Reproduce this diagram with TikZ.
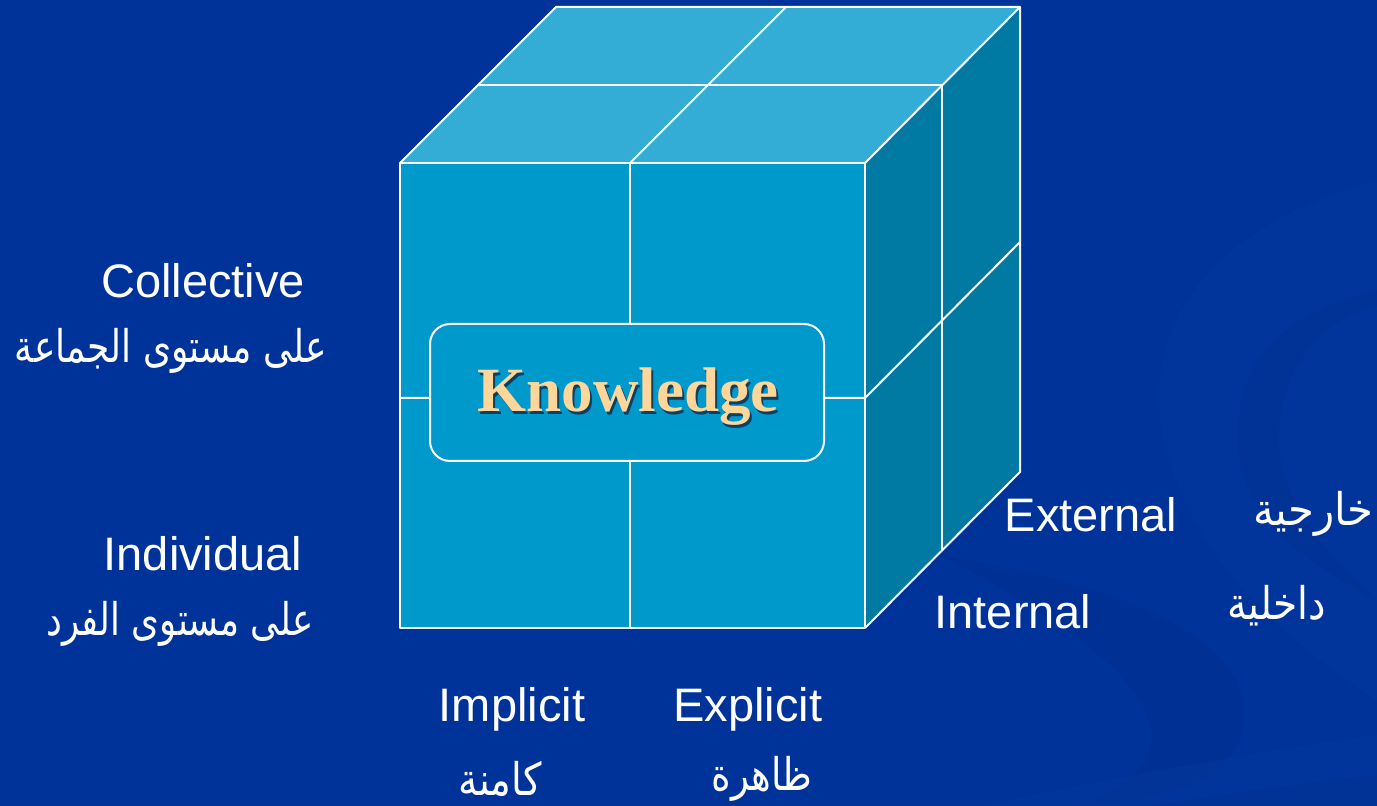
\documentclass[tikz,border=0pt]{standalone}
\usepackage{fontspec}
\setmainfont{Liberation Sans}
\newfontfamily\arabicfont[Script=Arabic]{DejaVu Sans}
\newfontfamily\kfont{Liberation Serif}
\TeXXeTstate=1
\definecolor{bg}{RGB}{0,51,153}
\definecolor{bgdark}{RGB}{0,44,138}
\definecolor{bglight}{RGB}{6,58,160}
\definecolor{frontc}{RGB}{0,153,204}
\definecolor{topc}{RGB}{51,173,214}
\definecolor{sidec}{RGB}{0,122,163}
\definecolor{peach}{RGB}{255,214,153}
\definecolor{kshadow}{RGB}{20,40,70}
\tikzset{
  lab/.style={text=white,font=\fontsize{23.5}{28}\selectfont,inner sep=0pt},
  arab/.style={text=white,font=\arabicfont\fontsize{22.5}{27}\selectfont,inner sep=0pt},
  gridline/.style={draw=white,line width=1pt,line join=round},
}
\begin{document}
\begin{tikzpicture}[x=0.5pt,y=-0.5pt]
\useasboundingbox (0,0) rectangle (1377,806);
% background
\fill[bg] (0,0) rectangle (1377,806);
\fill[bglight,opacity=0.35] (1377,180) .. controls (1200,230) and (1150,330) .. (1160,420) .. controls (1180,560) and (1300,650) .. (1377,700) -- cycle;
\fill[bgdark,opacity=0.2] (1377,290) .. controls (1260,320) and (1230,380) .. (1240,460) .. controls (1250,520) and (1300,560) .. (1377,600) .. controls (1310,540) and (1270,480) .. (1280,420) .. controls (1290,350) and (1330,320) .. (1377,305) -- cycle;
\fill[bgdark,opacity=0.35] (940,555) .. controls (1150,590) and (1270,650) .. (1240,740) .. controls (1220,790) and (1150,800) .. (1080,806) .. controls (1170,770) and (1220,700) .. (940,555) -- cycle;
\fill[bglight,opacity=0.35] (980,806) .. controls (1150,770) and (1300,745) .. (1377,735) -- (1377,806) -- cycle;
\fill[bgdark,opacity=0.25] (1150,806) .. controls (1250,790) and (1330,780) .. (1377,775) -- (1377,806) -- cycle;
% cube faces
\fill[frontc] (400,163) rectangle (865,628);
\fill[topc] (400,163) -- (556,7) -- (1020,7) -- (865,163) -- cycle;
\fill[sidec] (865,163) -- (1020,7) -- (1020,472) -- (865,628) -- cycle;
% grid lines
\draw[gridline] (400,163) rectangle (865,628);
\draw[gridline] (400,163) -- (556,7) -- (1020,7) -- (865,163);
\draw[gridline] (1020,7) -- (1020,472) -- (865,628);
\draw[gridline] (630,163) -- (630,628);
\draw[gridline] (400,398) -- (865,398) -- (1020,242);
\draw[gridline] (478,85) -- (942,85) -- (942,550);
\draw[gridline] (630,163) -- (786,7);
% knowledge box
\node[draw=white,line width=1pt,fill=frontc,rounded corners=10pt,minimum width=197pt,minimum height=68.5pt,inner sep=0pt] (kbox) at (627,392.5) {};
\node[text=kshadow,font=\kfont\bfseries\fontsize{31.5}{36}\selectfont,inner sep=0pt,anchor=base,opacity=0.8] (kshad) at (630,414.5) {Knowledge};
\node[text=peach,font=\kfont\bfseries\fontsize{31.5}{36}\selectfont,inner sep=0pt,anchor=base] (ktext) at (628,412) {Knowledge};
% left labels
\node[lab,anchor=base] (coll) at (203,298) {Collective};
\node[arab] (collar) at (171,351) {\scalebox{0.80}[1]{\beginR على مستوى الجماعة\endR}};
\node[lab,anchor=base] (indiv) at (203,571) {Individual};
\node[arab] (indivar) at (180,624) {\scalebox{0.79}[1]{\beginR على مستوى الفرد\endR}};
% bottom labels
\node[lab,anchor=base] (impl) at (512,722) {Implicit};
\node[lab,anchor=base] (expl) at (748,722) {Explicit};
\node[arab] (implar) at (500,779) {\scalebox{0.86}[1]{\beginR كامنة\endR}};
\node[arab] (explar) at (762,779) {\scalebox{0.83}[1]{\beginR ظاهرة\endR}};
% right labels
\node[lab,anchor=base] (ext) at (1091,532) {External};
\node[lab,anchor=base] (int) at (1013,629) {Internal};
\node[arab] (extar) at (1313,514) {\scalebox{0.93}[1]{\beginR خارجية\endR}};
\node[arab] (intar) at (1277,606) {\scalebox{0.87}[1]{\beginR داخلية\endR}};
\end{tikzpicture}
\end{document}
